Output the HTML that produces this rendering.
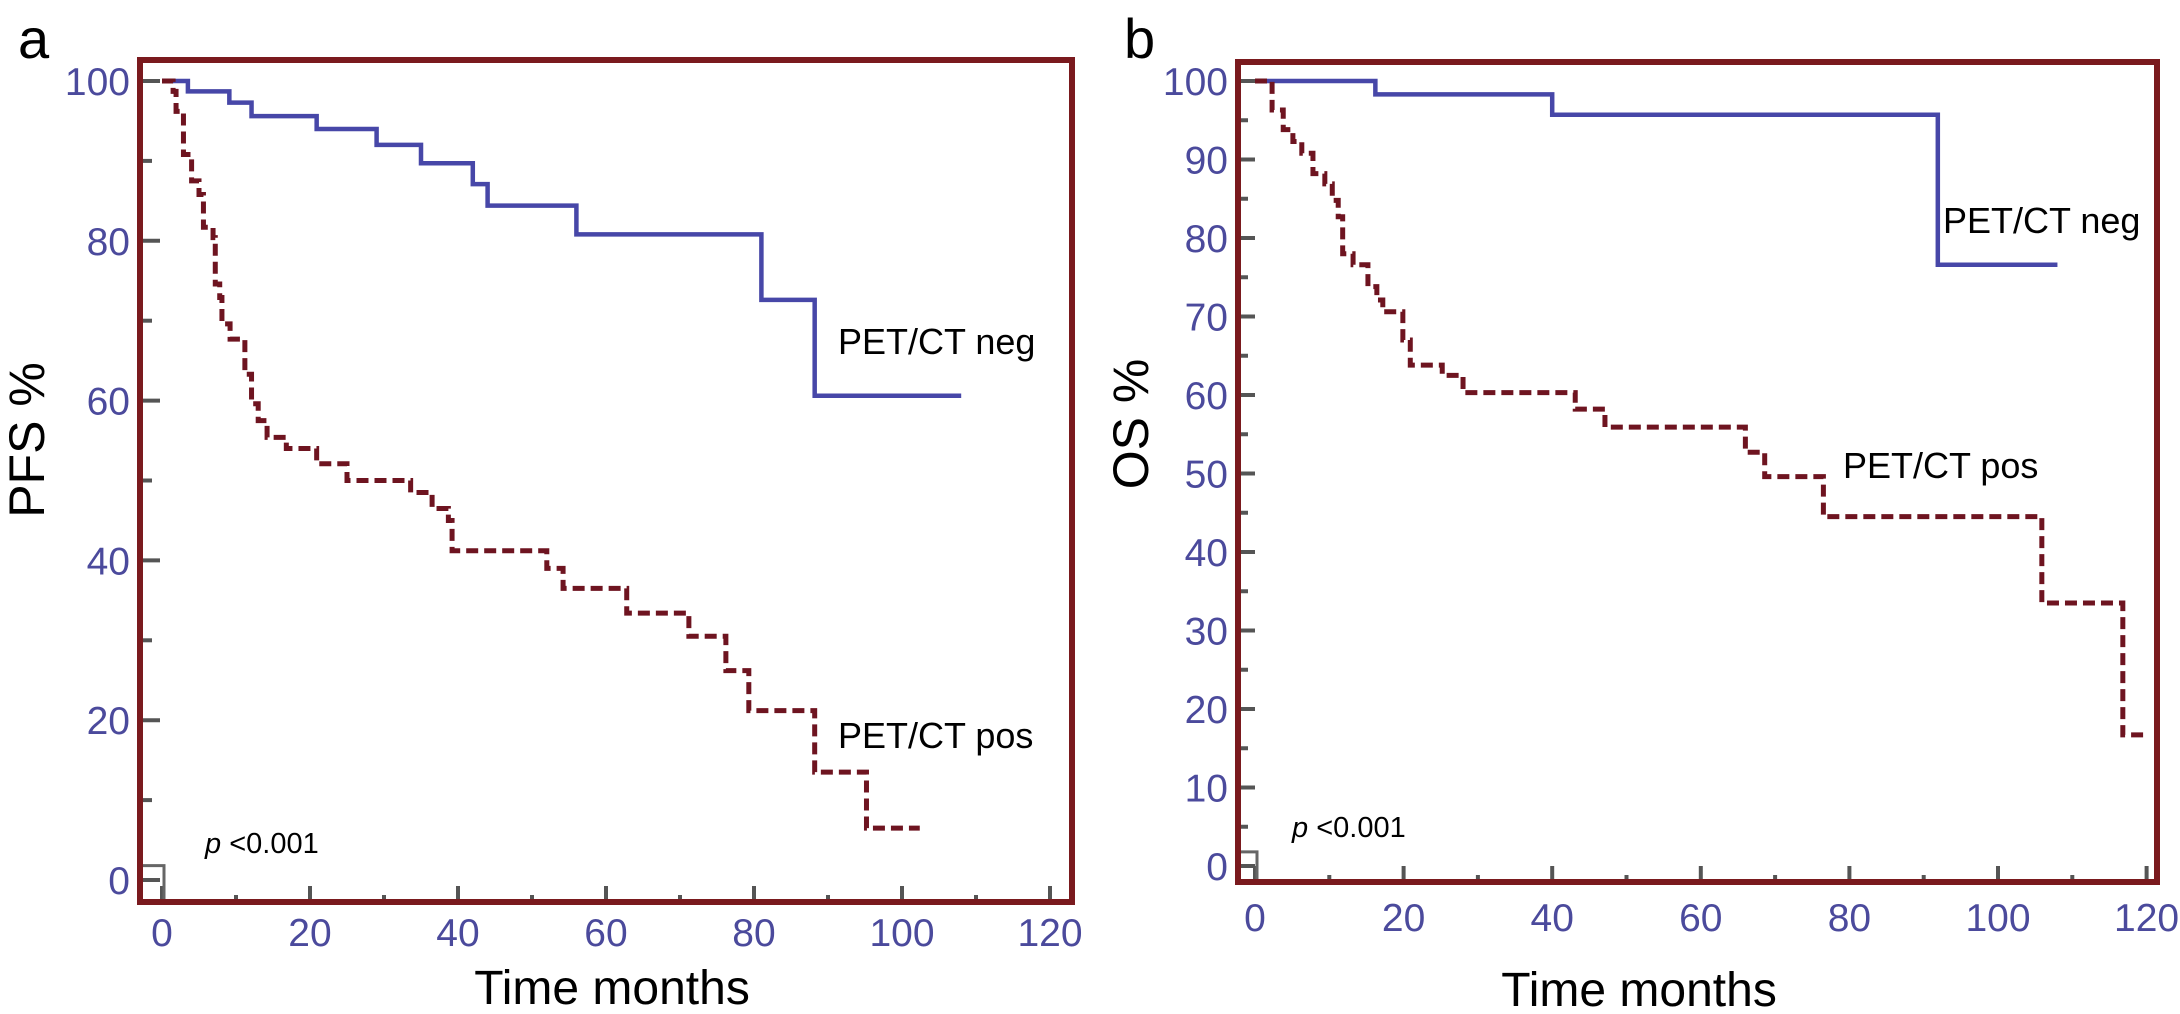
<!DOCTYPE html>
<html>
<head>
<meta charset="utf-8">
<style>
  html, body { margin: 0; padding: 0; background: #fff; }
  svg { display: block; }
  text { font-family: "Liberation Sans", Arial, sans-serif; }
  .tick { fill: #4b4a9c; font-size: 39px; }
</style>
</head>
<body>
<svg id="fig" width="2180" height="1014" viewBox="0 0 2180 1014" xmlns="http://www.w3.org/2000/svg">
  <rect x="0" y="0" width="2180" height="1014" fill="#fff"/>
  <g id="panelA"></g>
  <g id="panelB"></g>
</svg>
<script>
// ---------- Panel a (PFS) data ----------
const aXTicks = [0, 20, 40, 60, 80, 100, 120];
const aYTicks = [0, 20, 40, 60, 80, 100];
const aNegTimes = [0, 3.5, 9.1, 12.1, 20.9, 29, 35, 42, 44, 56, 81, 88.2];
const aNegValues = [100, 98.7, 97.3, 95.6, 94, 92, 89.7, 87.1, 84.4, 80.8, 72.6, 60.6];
const aNegEnd = 108;
const aPosTimes = [0, 1.5, 1.9, 2.9, 4, 5, 5.6, 6.9, 7.2, 7.8, 8.1, 9.2, 11.2, 12.1, 13, 14.2, 16.8, 20.9, 25, 33.6, 36.5, 38.7, 39.2, 52, 54.2, 62.8, 71.2, 76.2, 79.3, 88.2, 95.2];
const aPosValues = [100, 98.7, 96.2, 90.8, 87.5, 85.8, 81.7, 80.4, 74.6, 72.9, 69.6, 67.7, 63.3, 59.6, 57.5, 55.4, 54, 52.1, 50, 48.5, 46.5, 45, 41.2, 39, 36.5, 33.4, 30.5, 26.2, 21.2, 13.5, 6.5];
const aPosEnd = 102.4;

// ---------- Panel b (OS) data ----------
const bXTicks = [0, 20, 40, 60, 80, 100, 120];
const bYTicks = [0, 10, 20, 30, 40, 50, 60, 70, 80, 90, 100];
const bNegTimes = [0, 16.2, 40, 91.9];
const bNegValues = [100, 98.3, 95.7, 76.6];
const bNegEnd = 108;
const bPosTimes = [0, 2.3, 3.8, 5.1, 6.3, 7.8, 9.4, 10.4, 11.2, 11.8, 13.2, 15.2, 16.4, 17.2, 19.9, 20.9, 25.2, 28, 43.1, 47.1, 66, 68.6, 76.5, 105.9, 116.8];
const bPosValues = [100, 96.3, 93.8, 92.3, 90.8, 88.2, 86.9, 84.8, 82.7, 78, 76.6, 73.8, 72.1, 70.6, 67, 63.8, 62.5, 60.3, 58.2, 55.9, 52.7, 49.6, 44.5, 33.5, 16.7];
const bPosEnd = 119.8;

const NS = 'http://www.w3.org/2000/svg';
function mk(parent, tag, attrs, txt) {
  const e = document.createElementNS(NS, tag);
  for (const k in attrs) e.setAttribute(k, attrs[k]);
  if (txt !== undefined) e.textContent = txt;
  parent.appendChild(e);
  return e;
}
function stepPath(times, values, end, xs, ys) {
  let d = 'M' + xs(times[0]) + ' ' + ys(values[0]);
  for (let i = 1; i < times.length; i++) {
    d += ' H' + xs(times[i]) + ' V' + ys(values[i]);
  }
  d += ' H' + xs(end);
  return d;
}

function drawPanel(g, cfg) {
  const xs = t => cfg.x0 + t * cfg.xk;
  const ys = v => cfg.y0 - v * cfg.yk;
  // y ticks (major + minor)
  for (let v = cfg.yMin; v <= 100; v += cfg.yMinor) {
    const major = cfg.yTicks.indexOf(v) >= 0;
    const t = mk(g, 'line', {x1: cfg.left, x2: cfg.left + (major ? cfg.yMajLen : cfg.yMinLen), y1: ys(v), y2: ys(v), stroke: '#555', 'stroke-width': 4});
    
    
  }
  cfg.yTicks.forEach(v => {
    const l = mk(g, 'text', {x: cfg.left - 10, y: ys(v) + 14, 'text-anchor': 'end', class: 'tick'}, String(v));
    
    
  });
  // x ticks
  for (let t = 0; t <= 120; t += 10) {
    const major = t % 20 === 0;
    const tk = mk(g, 'line', {x1: xs(t), x2: xs(t), y1: cfg.bottom, y2: cfg.bottom - (major ? 16 : 7), stroke: '#555', 'stroke-width': 4});
    
    
  }
  cfg.xTicks.forEach(t => {
    const l = mk(g, 'text', {x: xs(t), y: cfg.xLabelY, 'text-anchor': 'middle', class: 'tick'}, String(t));
    
    
  });
  // origin hook
  const hook = mk(g, 'path', {d: 'M' + cfg.left + ' ' + ys(1.8) + ' H' + (xs(0) + 2) + ' V' + cfg.bottom, fill: 'none', stroke: '#666', 'stroke-width': 3});
  
  
  // curves
  const neg = mk(g, 'path', {d: stepPath(cfg.negT, cfg.negV, cfg.negEnd, xs, ys), fill: 'none', stroke: '#4747a8', 'stroke-width': 4.5});
  
  
  const pos = mk(g, 'path', {d: stepPath(cfg.posT, cfg.posV, cfg.posEnd, xs, ys), fill: 'none', stroke: '#6e1420', 'stroke-width': 5, 'stroke-dasharray': '12 6'});
  
  
  // frame
  const fr = mk(g, 'rect', {x: cfg.left, y: cfg.top, width: cfg.right - cfg.left, height: cfg.bottom - cfg.top, fill: 'none', stroke: '#7a1a1e', 'stroke-width': 6});
  
  
}

const gA = document.getElementById('panelA');
drawPanel(gA, {x0: 162, xk: 7.4, y0: 880, yk: 7.99, left: 140, right: 1072, top: 60, bottom: 902,
  yMin: 0, yMinor: 10, yTicks: aYTicks, xTicks: aXTicks, yMajLen: 20, yMinLen: 12, xLabelY: 946,
  negT: aNegTimes, negV: aNegValues, negEnd: aNegEnd, posT: aPosTimes, posV: aPosValues, posEnd: aPosEnd});
const gB = document.getElementById('panelB');
drawPanel(gB, {x0: 1255, xk: 7.43, y0: 866, yk: 7.85, left: 1238, right: 2157, top: 62, bottom: 882,
  yMin: 0, yMinor: 5, yTicks: bYTicks, xTicks: bXTicks, yMajLen: 17, yMinLen: 10, xLabelY: 931,
  negT: bNegTimes, negV: bNegValues, negEnd: bNegEnd, posT: bPosTimes, posV: bPosValues, posEnd: bPosEnd});
</script>
<svg width="0" height="0" style="position:absolute"></svg>
<script>
const fig = document.getElementById('fig');
function txt(attrs, s, name) {
  const e = document.createElementNS(NS, 'text');
  for (const k in attrs) e.setAttribute(k, attrs[k]);
  e.textContent = s;
  
  
  fig.appendChild(e);
  return e;
}
txt({x: 18, y: 58, 'font-size': 56, fill: '#000'}, 'a', 'panel-label-a');
txt({x: 1124, y: 58, 'font-size': 56, fill: '#000'}, 'b', 'panel-label-b');
txt({x: 0, y: 0, 'font-size': 50, fill: '#000', 'text-anchor': 'middle', transform: 'translate(44 440) rotate(-90)'}, 'PFS %', 'y-axis-title-pfs');
txt({x: 0, y: 0, 'font-size': 50, fill: '#000', 'text-anchor': 'middle', transform: 'translate(1148 424) rotate(-90)'}, 'OS %', 'y-axis-title-os');
txt({x: 612, y: 1004, 'font-size': 48, fill: '#000', 'text-anchor': 'middle'}, 'Time months', 'x-axis-title-a');
txt({x: 1639, y: 1006, 'font-size': 48, fill: '#000', 'text-anchor': 'middle'}, 'Time months', 'x-axis-title-b');
txt({x: 838, y: 354, 'font-size': 36, fill: '#000'}, 'PET/CT neg', 'label-pet-ct-neg-a');
txt({x: 838, y: 748, 'font-size': 36, fill: '#000'}, 'PET/CT pos', 'label-pet-ct-pos-a');
txt({x: 1943, y: 233, 'font-size': 36, fill: '#000'}, 'PET/CT neg', 'label-pet-ct-neg-b');
txt({x: 1843, y: 478, 'font-size': 36, fill: '#000'}, 'PET/CT pos', 'label-pet-ct-pos-b');
const p1 = txt({x: 205, y: 853, 'font-size': 29, fill: '#000'}, '', 'p-value-a');
p1.innerHTML = '<tspan font-style="italic">p</tspan> &lt;0.001';
const p2 = txt({x: 1292, y: 837, 'font-size': 29, fill: '#000'}, '', 'p-value-b');
p2.innerHTML = '<tspan font-style="italic">p</tspan> &lt;0.001';
</script>
</body>
</html>
